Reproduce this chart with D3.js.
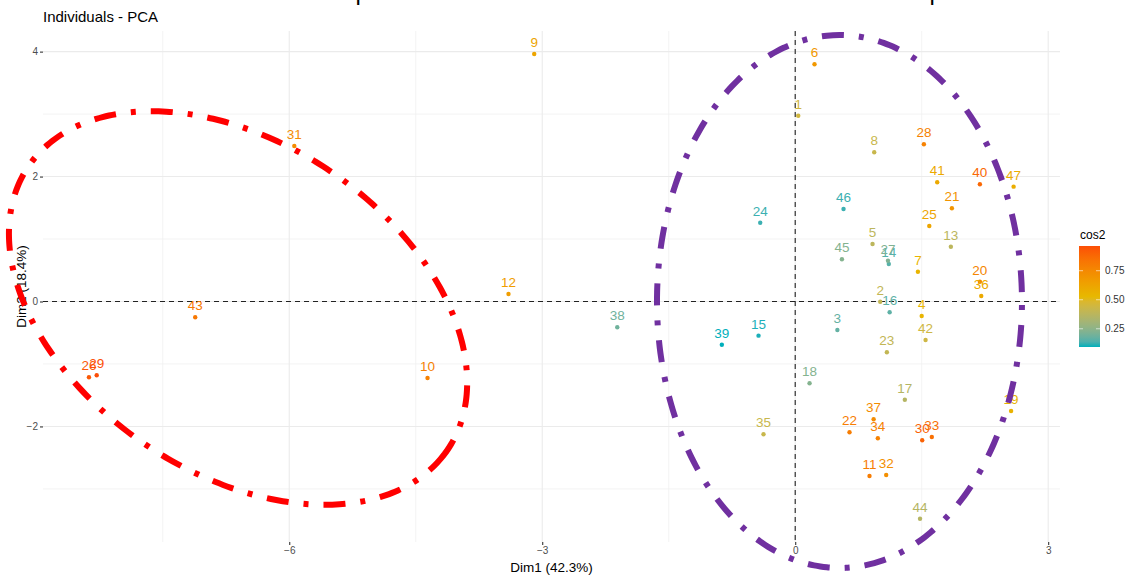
<!DOCTYPE html>
<html>
<head>
<meta charset="utf-8">
<script src="https://cdn.jsdelivr.net/npm/d3@7"></script>
<style>
  html, body { margin: 0; padding: 0; background: #fff; }
  svg { display: block; font-family: "Liberation Sans", Arial, sans-serif; }
</style>
</head>
<body>
<svg id="chart" width="1136" height="579"></svg>
<script>
// Individuals on the first two principal components
const ids  = [1,2,3,4,5,6,7,8,9,10,11,12,13,14,15,16,17,18,19,20,21,22,23,24,25,26,27,28,29,30,31,32,33,34,35,36,37,38,39,40,41,42,43,44,45,46,47];
const dim1 = [0.036,1.008,0.50,1.50,0.917,0.229,1.455,0.937,-3.095,-4.36,0.881,-3.40,1.846,1.11,-0.435,1.12,1.30,0.17,2.56,2.19,1.858,0.644,1.087,-0.415,1.59,-8.375,1.10,1.526,-8.283,1.506,-5.94,1.079,1.62,0.98,-0.376,2.206,0.93,-2.11,-0.87,2.19,1.684,1.546,-7.115,1.48,0.554,0.573,2.59];
const dim2 = [2.974,-0.003,-0.456,-0.232,0.920,3.797,0.477,2.388,3.962,-1.225,-2.793,0.120,0.877,0.60,-0.547,-0.173,-1.572,-1.309,-1.753,0.317,1.492,-2.094,-0.813,1.261,1.209,-1.213,0.653,2.516,-1.181,-2.222,2.489,-2.777,-2.169,-2.190,-2.126,0.088,-1.886,-0.413,-0.692,1.876,1.908,-0.616,-0.253,-3.477,0.676,1.481,1.838];
const cos2 = [0.45,0.40,0.17,0.55,0.38,0.68,0.55,0.42,0.62,0.78,0.80,0.66,0.38,0.15,0.10,0.16,0.36,0.23,0.56,0.76,0.70,0.80,0.40,0.12,0.62,0.93,0.22,0.78,0.963,0.90,0.74,0.72,0.85,0.78,0.42,0.60,0.74,0.19,0.093,0.88,0.60,0.44,0.82,0.36,0.23,0.12,0.58];

const xTicks = [-6, -3, 0, 3];
const yTicks = [-2, 0, 2, 4];
const xMinor = [-7.5, -4.5, -1.5, 1.5];
const yMinor = [-3, -1, 1, 3];
const legendTicks = [0.25, 0.50, 0.75];
const gradientColors = ["#00AFBB", "#E7B800", "#FC4E07"];

// Group outlines: centre and two conjugate semi-axes, in Dim1/Dim2 units
const groupCenters = [[-6.607, -0.104], [0.525, 0.0]];
const groupAxisU   = [[2.487, -2.265], [2.164, 0]];
const groupAxisV   = [[-1.094, -2.190], [0, 4.266]];
const groupColors  = ["#FF0000", "#7030A0"];

const points = ids.map((id, i) => ({ id, x: dim1[i], y: dim2[i], c: cos2[i] }));

const svg = d3.select("#chart");
const panel = { left: 43, right: 1060, top: 31, bottom: 542 };

const x = d3.scaleLinear().domain([-8.92, 3.14]).range([panel.left, panel.right]);
const y = d3.scaleLinear().domain([-3.85, 4.33]).range([panel.bottom, panel.top]);

const cExtent = d3.extent(cos2);
const color = d3.scaleLinear()
  .domain([cExtent[0], (cExtent[0] + cExtent[1]) / 2, cExtent[1]])
  .range(gradientColors)
  .interpolate(d3.interpolateLab);

// cut-off heading above the plot
svg.append("g").selectAll("text").data([355.5, 929.5]).join("text")
  .attr("x", d => d).attr("y", 0)
  .attr("font-size", 24).attr("fill", "#000").text("p");

// grid
const grid = svg.append("g");
grid.selectAll(".gx-minor").data(xMinor).join("line")
  .attr("x1", d => x(d)).attr("x2", d => x(d))
  .attr("y1", panel.top).attr("y2", panel.bottom)
  .attr("stroke", "#F0F0F0").attr("stroke-width", 0.8);
grid.selectAll(".gy-minor").data(yMinor).join("line")
  .attr("y1", d => y(d)).attr("y2", d => y(d))
  .attr("x1", panel.left).attr("x2", panel.right)
  .attr("stroke", "#F0F0F0").attr("stroke-width", 0.8);
grid.selectAll(".gx").data(xTicks).join("line")
  .attr("x1", d => x(d)).attr("x2", d => x(d))
  .attr("y1", panel.top).attr("y2", panel.bottom)
  .attr("stroke", "#EBEBEB").attr("stroke-width", 1.1);
grid.selectAll(".gy").data(yTicks).join("line")
  .attr("y1", d => y(d)).attr("y2", d => y(d))
  .attr("x1", panel.left).attr("x2", panel.right)
  .attr("stroke", "#EBEBEB").attr("stroke-width", 1.1);

// reference lines at the origin
svg.append("line")
  .attr("x1", panel.left).attr("x2", panel.right)
  .attr("y1", y(0)).attr("y2", y(0))
  .attr("stroke", "#222").attr("stroke-width", 1.1).attr("stroke-dasharray", "5,4");
svg.append("line")
  .attr("x1", x(0)).attr("x2", x(0))
  .attr("y1", panel.top).attr("y2", panel.bottom)
  .attr("stroke", "#222").attr("stroke-width", 1.1).attr("stroke-dasharray", "5,4");

// axes
const xAxis = d3.axisBottom(x).tickValues(xTicks).tickSize(3).tickPadding(2).tickFormat(d3.format("d"));
const yAxis = d3.axisLeft(y).tickValues(yTicks).tickSize(3).tickPadding(2).tickFormat(d3.format("d"));
const gx = svg.append("g").attr("transform", `translate(0,${panel.bottom})`).call(xAxis);
const gy = svg.append("g").attr("transform", `translate(${panel.left},0)`).call(yAxis);
[gx, gy].forEach(g => {
  g.select(".domain").remove();
  g.selectAll(".tick line").attr("stroke", "#333").attr("stroke-width", 1.1);
  g.selectAll(".tick text").attr("fill", "#4D4D4D").attr("font-size", 10)
    .attr("font-family", "Liberation Sans, Arial, sans-serif");
});

// axis titles
svg.append("text")
  .attr("x", (panel.left + panel.right) / 2).attr("y", 572)
  .attr("text-anchor", "middle").attr("font-size", 13.5).attr("fill", "#000")
  .text("Dim1 (42.3%)");
svg.append("text")
  .attr("transform", `translate(26,${(panel.top + panel.bottom) / 2}) rotate(-90)`)
  .attr("text-anchor", "middle").attr("font-size", 13.5).attr("fill", "#000")
  .text("Dim2 (18.4%)");

// plot title
svg.append("text")
  .attr("x", 43).attr("y", 22)
  .attr("font-size", 15).attr("fill", "#000")
  .text("Individuals - PCA");

// points and labels
const pg = svg.append("g");
pg.selectAll("circle").data(points).join("circle")
  .attr("cx", d => x(d.x)).attr("cy", d => y(d.y)).attr("r", 2.2)
  .attr("fill", d => color(d.c));
pg.selectAll("text").data(points).join("text")
  .attr("x", d => x(d.x)).attr("y", d => y(d.y) - 7)
  .attr("text-anchor", "middle").attr("font-size", 13.5)
  .attr("fill", d => color(d.c))
  .text(d => d.id);

// legend colour bar
const lg = svg.append("g");
const barX = 1079, barW = 21;
const ly = d3.scaleLinear().domain(cExtent).range([347, 246]);
const defs = svg.append("defs");
const grad = defs.append("linearGradient").attr("id", "cosGrad")
  .attr("x1", 0).attr("y1", 1).attr("x2", 0).attr("y2", 0);
d3.range(0, 1.0001, 0.05).forEach(t => {
  grad.append("stop").attr("offset", t)
    .attr("stop-color", color(cExtent[0] + t * (cExtent[1] - cExtent[0])));
});
lg.append("rect")
  .attr("x", barX).attr("y", ly(cExtent[1]))
  .attr("width", barW).attr("height", ly(cExtent[0]) - ly(cExtent[1]))
  .attr("fill", "url(#cosGrad)");
legendTicks.forEach(v => {
  lg.append("line").attr("x1", barX).attr("x2", barX + 4)
    .attr("y1", ly(v)).attr("y2", ly(v)).attr("stroke", "#fff").attr("stroke-opacity", 0.6);
  lg.append("line").attr("x1", barX + barW - 4).attr("x2", barX + barW)
    .attr("y1", ly(v)).attr("y2", ly(v)).attr("stroke", "#fff").attr("stroke-opacity", 0.6);
  lg.append("text").attr("x", barX + barW + 5).attr("y", ly(v) + 3.5)
    .attr("font-size", 10).attr("fill", "#333").text(d3.format(".2f")(v));
});
lg.append("text").attr("x", barX + 1).attr("y", 239)
  .attr("font-size", 12).attr("fill", "#000").text("cos2");

// group outlines, drawn on top
const tSteps = d3.range(0, 361, 2).map(a => a * Math.PI / 180);
const outline = d3.line().curve(d3.curveCardinalClosed);
groupCenters.forEach((c, k) => {
  const u = groupAxisU[k], v = groupAxisV[k];
  const pts = tSteps.slice(0, -1).map(t => [
    x(c[0] + u[0] * Math.cos(t) + v[0] * Math.sin(t)),
    y(c[1] + u[1] * Math.cos(t) + v[1] * Math.sin(t))
  ]);
  svg.append("path")
    .attr("d", outline(pts))
    .attr("fill", "none")
    .attr("stroke", groupColors[k])
    .attr("stroke-width", 6)
    .attr("stroke-dasharray", "22,15,5,15");
});
</script>
</body>
</html>
